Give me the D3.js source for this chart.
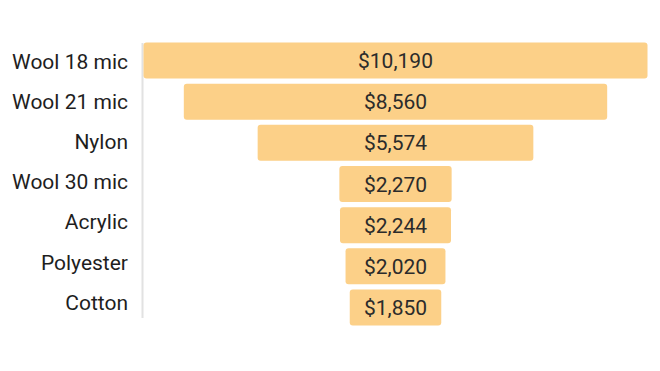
<!DOCTYPE html>
<html>
<head>
<meta charset="utf-8">
<script src="https://cdn.jsdelivr.net/npm/d3@7"></script>
<style>
	body { margin: 0; background: #fff; }
	text { font-family: Roboto, 'DejaVu Sans', sans-serif; }
</style>
</head>
<body>
<div id="chart"></div>
<script>
const fibres = [ 'Wool 18 mic', 'Wool 21 mic', 'Nylon', 'Wool 30 mic', 'Acrylic', 'Polyester', 'Cotton' ];
const prices = [ 10190, 8560, 5574, 2270, 2244, 2020, 1850 ];

const width = 660;
const height = 371;
const centerX = 395.5;

const svg = d3.select('#chart').append('svg').attr('width', width).attr('height', height);

const data = fibres.map((name, i) => ({ name, value: prices[i] }));

// bar length scale, bars are centred on one x
const wScale = d3.scaleLinear().domain([ 0, d3.max(prices) ]).range([ 0, 504 ]);

const yScale = d3.scaleBand().domain(fibres).range([ 40, 328 ]).paddingInner(0.125).paddingOuter(0.06);

// left axis line
svg
	.append('line')
	.attr('x1', 142.5)
	.attr('x2', 142.5)
	.attr('y1', 43)
	.attr('y2', 318)
	.style('stroke', '#e2e2e2')
	.style('stroke-width', 2);

svg
	.selectAll('rect.bar')
	.data(data)
	.enter()
	.append('rect')
	.attr('class', 'bar')
	.attr('x', (d) => centerX - wScale(d.value) / 2)
	.attr('y', (d) => yScale(d.name))
	.attr('width', (d) => wScale(d.value))
	.attr('height', yScale.bandwidth())
	.attr('rx', 3)
	.style('fill', '#fcd088');

// value labels
svg
	.selectAll('text.value')
	.data(data)
	.enter()
	.append('text')
	.attr('class', 'value')
	.attr('x', centerX)
	.attr('y', (d) => yScale(d.name) + yScale.bandwidth() / 2)
	.attr('dy', '0.36em')
	.attr('text-anchor', 'middle')
	.style('font-size', '21px')
	.style('fill', '#2b2b2b')
	.text((d) => `$${d3.format(',')(d.value)}`);

// category labels
svg
	.selectAll('text.name')
	.data(data)
	.enter()
	.append('text')
	.attr('class', 'name')
	.attr('x', 128)
	.attr('y', (d, i) => 61 + i * 40.2)
	.attr('dy', '0.36em')
	.attr('text-anchor', 'end')
	.style('font-size', '21px')
	.style('fill', '#1e1e1e')
	.text((d) => d.name);
</script>
</body>
</html>
